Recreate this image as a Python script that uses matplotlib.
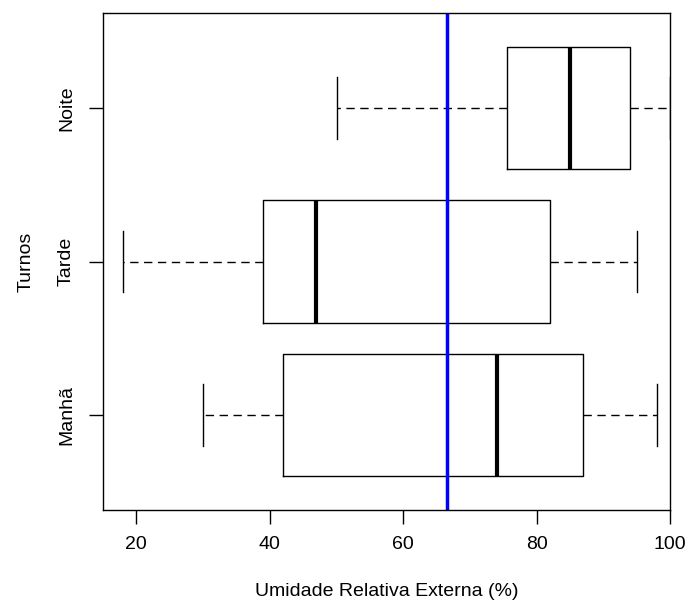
import matplotlib
matplotlib.use('Agg')
import matplotlib.pyplot as plt

# Umidade relativa externa por turno (resumo do boxplot)
turnos = ['Manhã', 'Tarde', 'Noite']
whislo = [30, 18, 50]
q1 = [42, 39, 75.5]
med = [74, 47, 85]
q3 = [87, 82, 94]
whishi = [98, 95, 100]
media_geral = 66.6
xticks = [20, 40, 60, 80, 100]

plt.rcParams['font.family'] = ['Liberation Sans', 'DejaVu Sans']

stats = []
for i in range(len(turnos)):
    stats.append({'label': turnos[i], 'whislo': whislo[i], 'q1': q1[i],
                  'med': med[i], 'q3': q3[i], 'whishi': whishi[i], 'fliers': []})

fig = plt.figure(figsize=(6.86, 6.04), dpi=100)
ax = fig.add_axes([0.150, 0.1556, 0.827, 0.8229])

ax.bxp(stats, orientation='horizontal', widths=0.8, capwidths=0.4,
       showfliers=False,
       boxprops=dict(color='black', linewidth=1.0),
       whiskerprops=dict(color='black', linewidth=1.0, linestyle=(0, (6, 4))),
       capprops=dict(color='black', linewidth=1.0),
       medianprops=dict(color='black', linewidth=3.0, solid_capstyle='butt'))

ax.axvline(media_geral, color='#0000ff', linewidth=2.5)

ax.set_xlim(15, 100)
ax.set_ylim(0.38, 3.62)
ax.set_xticks(xticks)
ax.set_xticklabels([str(t) for t in xticks], fontsize=14)
ax.set_yticks([1, 2, 3])
ax.set_yticklabels(turnos, rotation=90, va='center', fontsize=14)
ax.tick_params(axis='both', length=10, width=1, direction='out')
ax.tick_params(axis='x', pad=9)
ax.tick_params(axis='y', pad=10)
for s in ax.spines.values():
    s.set_linewidth(1.0)

ax.set_xlabel('Umidade Relativa Externa (%)', fontsize=14, labelpad=21)
ax.set_ylabel('Turnos', fontsize=14, labelpad=17)

fig.savefig('out.png', dpi=100)
